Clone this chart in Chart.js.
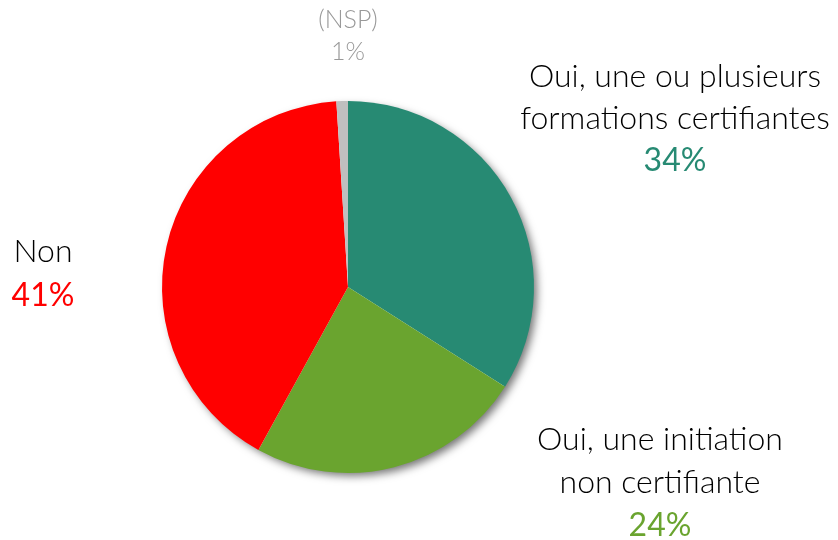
<!DOCTYPE html>
<html><head><meta charset="utf-8">
<script src="https://cdn.jsdelivr.net/npm/chart.js@4/dist/chart.umd.min.js"></script>
<style>html,body{margin:0;padding:0;background:#fff}#wrap{width:838px;height:540px}</style>
</head><body><div id="wrap"><canvas id="c" width="838" height="540"></canvas></div>
<script>
const categories = ["Oui, une ou plusieurs formations certifiantes", "Oui, une initiation non certifiante", "Non", "(NSP)"];
const values = [34, 24, 41, 1];
const valueLabels = ["34%", "24%", "41%", "1%"];
const labelLines = [["Oui, une ou plusieurs", "formations certifiantes"], ["Oui, une initiation", "non certifiante"], ["Non"], ["(NSP)"]];
const colors = ["#278A73", "#6AA42F", "#FF0000", "#BFBFBF"];
const textColors = ["#278A73", "#6AA42F", "#FF0000", "#999999"];

const FONT = "Lato";
const shadowPlugin = {
  id: 'shadow',
  beforeDatasetsDraw(chart) {
    const arc = chart.getDatasetMeta(0).data[0];
    if (!arc) return;
    const ctx = chart.ctx;
    ctx.save();
    ctx.shadowColor = 'rgba(0,0,0,0.55)';
    ctx.shadowBlur = 9;
    ctx.shadowOffsetX = 4;
    ctx.shadowOffsetY = 4;
    ctx.beginPath();
    ctx.arc(arc.x, arc.y, arc.outerRadius - 1, 0, Math.PI * 2);
    ctx.fillStyle = '#ffffff';
    ctx.fill();
    ctx.restore();
  }
};
const labelPlugin = {
  id: 'labels',
  afterDatasetsDraw(chart) {
    const ctx = chart.ctx;
    const spots = [
      {x: 675, y: 77, lh: 42, size: 32},
      {x: 660, y: 440, lh: 43, size: 32},
      {x: 43, y: 252, lh: 44, size: 32},
      {x: 348, y: 20, lh: 32, size: 25}
    ];
    ctx.save();
    ctx.textAlign = 'center';
    ctx.textBaseline = 'middle';
    spots.forEach((s, i) => {
      ctx.font = `300 ${s.size}px ${FONT}`;
      const lines = labelLines[i];
      lines.forEach((t, k) => {
        ctx.fillStyle = i === 3 ? textColors[3] : '#000000';
        ctx.fillText(t, s.x, s.y + k * s.lh);
      });
      ctx.font = `${i === 3 ? 300 : 400} ${s.size}px ${FONT}`;
      ctx.fillStyle = textColors[i];
      ctx.fillText(valueLabels[i], s.x, s.y + lines.length * s.lh);
    });
    ctx.restore();
  }
};
new Chart(document.getElementById('c'), {
  type: 'pie',
  data: { labels: categories, datasets: [{ data: values, backgroundColor: colors, borderWidth: 0 }] },
  options: {
    responsive: false, animation: false,
    layout: { padding: { left: 0, right: 142, top: 101, bottom: 67 } },
    plugins: { legend: { display: false }, tooltip: { enabled: false } }
  },
  plugins: [shadowPlugin, labelPlugin]
});
</script></body></html>
